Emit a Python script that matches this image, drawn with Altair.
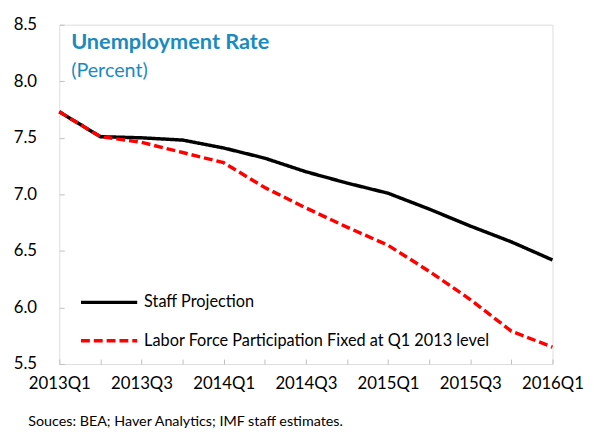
import altair as alt
import pandas as pd

quarters = ["2013Q1", "2013Q2", "2013Q3", "2013Q4",
            "2014Q1", "2014Q2", "2014Q3", "2014Q4",
            "2015Q1", "2015Q2", "2015Q3", "2015Q4", "2016Q1"]
staff_projection = [7.73, 7.51, 7.50, 7.48, 7.41, 7.32, 7.20, 7.10, 7.01, 6.87, 6.72, 6.58, 6.42]
lfp_fixed = [7.73, 7.51, 7.46, 7.37, 7.28, 7.06, 6.88, 6.71, 6.55, 6.32, 6.07, 5.79, 5.65]
series_names = ["Staff Projection", "Labor Force Participation Fixed at Q1 2013 level"]
y_ticks = [5.5, 6.0, 6.5, 7.0, 7.5, 8.0, 8.5]
source_note = "Souces: BEA; Haver Analytics; IMF staff estimates."

rows = []
for q, a, b in zip(quarters, staff_projection, lfp_fixed):
    rows.append({"quarter": q, "series": series_names[0], "value": a})
    rows.append({"quarter": q, "series": series_names[1], "value": b})
df = pd.DataFrame(rows)

FONT = "Lato"
BLUE = "#1a8bbf"

xscale = alt.Scale(type="point", padding=0)
yscale = alt.Scale(domain=[5.5, 8.5], nice=False, zero=False)
color_scale = alt.Scale(domain=series_names, range=["#000000", "#ff0000"])
dash_scale = alt.Scale(domain=series_names, range=[[1, 0], [9, 4]])

lines = alt.Chart(df).mark_line(strokeWidth=3.5, strokeCap="butt").encode(
    x=alt.X("quarter:O", sort=quarters, scale=xscale,
            axis=alt.Axis(orient="bottom", ticks=False, domain=False, grid=False,
                          labelAngle=0, labelPadding=12, labelFontSize=17, labelFont=FONT,
                          labelColor="#000000", labelOverlap=False,
                          labelExpr="(indexof(datum.label,'Q1')>0 || indexof(datum.label,'Q3')>0) ? datum.label : ''",
                          title=source_note, titleFont=FONT, titleFontSize=14.5,
                          titleFontWeight="normal", titleColor="#000000",
                          titleX=-32, titleY=62, titleAlign="left", titleBaseline="alphabetic")),
    y=alt.Y("value:Q", scale=yscale,
            axis=alt.Axis(orient="left", ticks=False, domain=False, grid=False,
                          values=y_ticks, format=".1f", labelPadding=23,
                          labelFontSize=17, labelFont=FONT, labelColor="#000000", title=None)),
    color=alt.Color("series:N", scale=color_scale, sort=series_names,
                    legend=alt.Legend(title=None, orient="none", legendX=20, legendY=251,
                                      symbolType="stroke", symbolSize=3249, symbolStrokeWidth=3.5,
                                      labelFont=FONT, labelFontSize=16.5, labelColor="#000000",
                                      labelLimit=600, labelOffset=5, rowPadding=-5, padding=0)),
    strokeDash=alt.StrokeDash("series:N", scale=dash_scale, sort=series_names, legend=None),
)

ticks_layer = alt.Chart(df).mark_line(opacity=0).encode(
    x=alt.X("quarter:O", sort=quarters, scale=xscale,
            axis=alt.Axis(orient="bottom", offset=-5, ticks=True, tickSize=5, tickColor="#bfbfbf",
                          tickWidth=1, domain=False, labels=False, grid=False, title=None)),
    y=alt.Y("value:Q", scale=yscale,
            axis=alt.Axis(orient="left", offset=-5, ticks=True, tickSize=5, tickColor="#bfbfbf",
                          tickWidth=1, domain=False, labels=False, grid=False, values=y_ticks,
                          title=None)),
    detail="series:N",
)

chart = alt.layer(ticks_layer, lines).resolve_axis(x="independent", y="independent").properties(
    width=500, height=344,
    autosize=alt.AutoSizeParams(type="none"),
    padding={"left": 52, "top": 14, "right": 34, "bottom": 67},
    title=alt.TitleParams(text="Unemployment Rate", subtitle="(Percent)", anchor="start",
                          frame="group", font=FONT, fontSize=22, fontWeight="bold", color=BLUE,
                          subtitleFont=FONT, subtitleFontSize=20, subtitleColor=BLUE,
                          subtitlePadding=7, dx=12, dy=71),
).configure_view(stroke="#bfbfbf", strokeWidth=1.5).configure(background="white")

chart.save("out.html", embed_options={"renderer": "svg", "actions": False})
